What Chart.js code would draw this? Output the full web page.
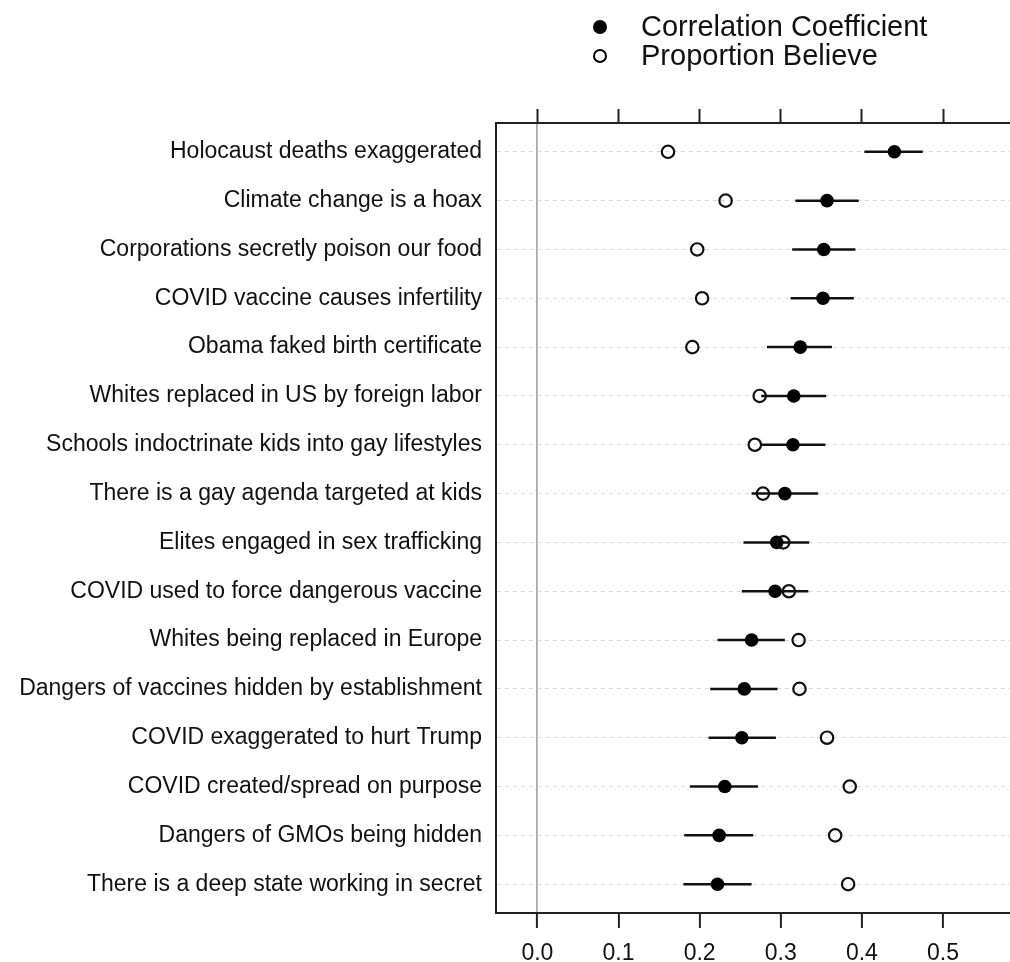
<!DOCTYPE html>
<html>
<head>
<meta charset="utf-8">
<script src="https://cdn.jsdelivr.net/npm/chart.js@4"></script>
<style>
body{margin:0;background:#fff;font-family:"Liberation Sans",Arial,sans-serif;}
#wrap{position:relative;width:1010px;height:962px;}
#legend{position:absolute;left:593px;top:12px;font-size:29px;line-height:28.5px;color:#111;}
.item{display:flex;align-items:center;}
.dot{flex:0 0 auto;width:14px;height:14px;border-radius:50%;margin-right:34px;box-sizing:border-box;position:relative;top:1px;}
.filled{background:#000;}
.open{border:2px solid #000;}
</style>
</head>
<body>
<div id="wrap">
  <canvas id="myChart" width="1010" height="962"></canvas>
  <div id="legend">
    <div class="item"><span class="dot filled"></span>Correlation Coefficient</div>
    <div class="item"><span class="dot open"></span>Proportion Believe</div>
  </div>
</div>
<script>
// items, top to bottom
var labels = [
  "Holocaust deaths exaggerated",
  "Climate change is a hoax",
  "Corporations secretly poison our food",
  "COVID vaccine causes infertility",
  "Obama faked birth certificate",
  "Whites replaced in US by foreign labor",
  "Schools indoctrinate kids into gay lifestyles",
  "There is a gay agenda targeted at kids",
  "Elites engaged in sex trafficking",
  "COVID used to force dangerous vaccine",
  "Whites being replaced in Europe",
  "Dangers of vaccines hidden by establishment",
  "COVID exaggerated to hurt Trump",
  "COVID created/spread on purpose",
  "Dangers of GMOs being hidden",
  "There is a deep state working in secret"
];
var corr     = [0.440, 0.357, 0.353, 0.352, 0.324, 0.316, 0.315, 0.305, 0.295, 0.293, 0.264, 0.255, 0.252, 0.231, 0.224, 0.222];
var corrLow  = [0.403, 0.318, 0.314, 0.312, 0.283, 0.276, 0.275, 0.264, 0.254, 0.252, 0.222, 0.213, 0.211, 0.188, 0.181, 0.180];
var corrHigh = [0.475, 0.396, 0.392, 0.390, 0.363, 0.356, 0.355, 0.346, 0.335, 0.334, 0.305, 0.296, 0.294, 0.272, 0.266, 0.264];
var believe  = [0.161, 0.232, 0.197, 0.203, 0.191, 0.274, 0.268, 0.278, 0.303, 0.310, 0.322, 0.323, 0.357, 0.385, 0.367, 0.383];
var xTicks = [0.0, 0.1, 0.2, 0.3, 0.4, 0.5];

var font = {family: "'Liberation Sans', Arial, sans-serif", size: 23};

// horizontal interval lines for the correlation
var errorBars = {
  id: 'errorBars',
  beforeDatasetsDraw: function (chart) {
    var ctx = chart.ctx, xs = chart.scales.x, ys = chart.scales.y;
    ctx.save();
    ctx.strokeStyle = '#111';
    ctx.lineWidth = 2.5;
    for (var i = 0; i < labels.length; i++) {
      var y = ys.getPixelForValue(i);
      ctx.beginPath();
      ctx.moveTo(xs.getPixelForValue(corrLow[i]), y);
      ctx.lineTo(xs.getPixelForValue(corrHigh[i]), y);
      ctx.stroke();
    }
    ctx.restore();
  }
};

function setXTicks(scale) {
  scale.ticks = xTicks.map(function (v) { return {value: v}; });
}

var ctx = document.getElementById('myChart').getContext('2d');
var chart = new Chart(ctx, {
  type: 'scatter',
  data: {
    datasets: [{
      label: 'Proportion Believe',
      data: believe.map(function (v, i) { return {x: v, y: i}; }),
      pointRadius: 6.2,
      pointBorderWidth: 2.2,
      pointBorderColor: '#111',
      pointBackgroundColor: 'rgba(0,0,0,0)',
      order: 0
    }, {
      label: 'Correlation Coefficient',
      data: corr.map(function (v, i) { return {x: v, y: i}; }),
      pointRadius: 6.8,
      pointBorderWidth: 0,
      pointBackgroundColor: '#000',
      order: 1
    }]
  },
  options: {
    responsive: false,
    animation: false,
    layout: {autoPadding: false, padding: {top: 109, bottom: 0, left: 0, right: 0}},
    plugins: {legend: {display: false}, tooltip: {enabled: false}},
    scales: {
      x: {
        type: 'linear',
        position: 'bottom',
        min: -0.051,
        max: 0.5825,
        afterBuildTicks: setXTicks,
        afterFit: function (scale) { scale.height = 49; },
        grid: {
          color: function (c) { return c.tick && c.tick.value === 0 ? '#aaa' : 'rgba(0,0,0,0)'; },
          lineWidth: 1.8,
          tickColor: '#222',
          tickWidth: 2,
          tickLength: 15
        },
        border: {color: '#222', width: 2},
        ticks: {
          font: font,
          color: '#111',
          padding: 12,
          callback: function (v) { return v.toFixed(1); }
        }
      },
      x2: {
        type: 'linear',
        position: 'top',
        min: -0.051,
        max: 0.5825,
        afterBuildTicks: setXTicks,
        grid: {drawOnChartArea: false, tickColor: '#222', tickWidth: 2, tickLength: 14},
        border: {color: '#222', width: 2},
        ticks: {display: false}
      },
      y: {
        type: 'linear',
        reverse: true,
        min: -0.59,
        max: 15.59,
        afterBuildTicks: function (scale) {
          scale.ticks = labels.map(function (l, i) { return {value: i}; });
        },
        afterFit: function (scale) { scale.width = 496; },
        grid: {color: '#d9d9d9', lineWidth: 1, drawTicks: false},
        border: {color: '#222', width: 2, dash: [4, 4]},
        ticks: {
          font: font,
          color: '#111',
          padding: 14,
          callback: function (v) { return labels[v]; }
        }
      }
    }
  },
  plugins: [errorBars]
});
</script>
</body>
</html>
